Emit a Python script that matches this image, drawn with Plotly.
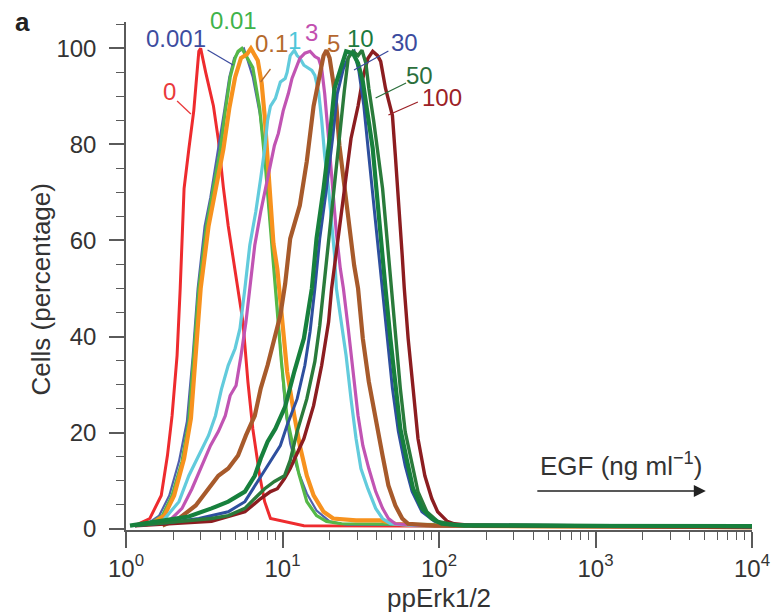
import plotly.graph_objects as go

# ---------------- data ----------------
x_0 = [1.14, 1.42, 1.68, 1.84, 1.97, 2.12, 2.22, 2.35, 2.52, 2.71, 2.92, 3.0, 3.23, 3.62, 3.89, 4.19, 4.50, 4.98, 5.20, 5.59,
       6.01, 6.46, 7.15, 7.69, 8.38, 10.3, 13.7, 10000]
y_0 = [0.6, 2.1, 6.9, 15.2, 23.5, 36, 50, 70.8, 79, 87, 99.4, 100, 95, 88, 81, 71, 63, 53.5, 50, 43,
       30.6, 20.8, 11, 5.6, 2.1, 1.5, 0.6, 0.3]

x_0001 = [1.37, 1.63, 1.89, 2.18, 2.45, 2.67, 2.87, 3.18, 3.46, 3.89, 4.24, 4.57, 4.91, 5.28, 5.67, 6.46, 7.15, 7.80, 8.2, 8.75,
          9.14, 9.69, 10.4, 11.2, 12.4, 14.3, 16.5, 20.0, 25.5, 10000]
y_0001 = [1, 2.7, 6.9, 14, 22.3, 36, 50, 63, 69, 79, 87, 94, 98, 99.4, 100, 94, 86.5, 77, 66.7, 56,
          48, 37.5, 25, 17.7, 12.5, 7.3, 3.75, 1.5, 0.8, 0.3]

x_001 = [1.42, 1.71, 1.97, 2.28, 2.52, 2.71, 2.92, 3.27, 3.52, 4.01, 4.31, 4.63, 4.98, 5.2, 5.5, 6.46, 7.15, 7.80, 8.38, 9.01,
         9.83, 10.7, 11.7, 12.7, 14.3, 16.5, 19.1, 23.8, 10000]
y_001 = [1.0, 2.7, 6.9, 14, 22.3, 36, 50, 63, 69, 79, 87, 94, 98, 99.4, 100, 96, 87.5, 75, 62.5, 50,
         35, 23, 16.7, 11.5, 5.6, 2.7, 1.5, 1.0, 0.3]

x_01 = [1.46, 1.76, 2.03, 2.35, 2.60, 2.79, 3.0, 3.37, 3.73, 4.19, 4.57, 4.98, 5.43, 5.93, 6.28, 6.95, 7.36, 7.69, 8.03, 8.38,
        8.75, 9.27, 9.69, 10.7, 11.9, 12.9, 14.3, 15.8, 18.3, 21.1, 29.5, 42.4, 52.6, 81, 10000]
y_01 = [1, 2.7, 6.9, 14.6, 23, 35.4, 50, 63, 70, 79, 87.5, 94, 98, 98.8, 100, 97.5, 92.7, 86, 77, 67.7,
        59.4, 54, 48, 32.7, 23.5, 17.3, 11, 6.9, 3.5, 2.1, 1.7, 1.7, 1.0, 0.6, 0.3]

x_1 = [1.71, 2.18, 2.52, 2.92, 3.37, 3.73, 4.07, 4.50, 4.98, 5.35, 5.59, 5.75, 6.18, 6.75, 7.26, 7.69, 8.03, 8.38, 9.01, 9.69,
       10.4, 10.7, 11.2, 11.9, 12.4, 12.9, 13.7, 14.7, 15.4, 16.1, 17.0, 17.8, 18.6, 19.7, 20.6, 21.5, 22.1, 23.8, 25.5, 27.4,
       29.5, 31.7, 35.1, 39.4, 43.6, 48.9, 70.3, 10000]
y_1 = [1.5, 5.6, 11, 15.2, 19.4, 23.5, 29, 34, 37.5, 41.7, 46.5, 50, 59, 66, 73, 79, 85, 88, 89.6, 93,
       93.75, 95, 98.5, 99.6, 98.5, 98, 96.5, 95.8, 95.4, 94.4, 91, 85, 77.7, 70.8, 64, 57, 50, 43, 36, 27,
       18.75, 12.5, 8.3, 4.2, 2.1, 1.0, 0.6, 0.3]

x_3 = [1.81, 2.28, 2.64, 3.05, 3.47, 3.89, 4.31, 4.63, 5.05, 5.43, 5.84, 6.18, 6.65, 7.26, 8.03, 8.88, 9.41, 10.1, 10.9, 11.5,
       12.4, 12.9, 13.9, 15.0, 16.1, 17.0, 17.8, 18.6, 19.7, 20.9, 22.1, 23.4, 24.5, 26.3, 28.2, 30.4, 32.6, 35.6, 39.4, 43.6,
       47.5, 52.6, 81, 10000]
y_3 = [1.0, 4.2, 8.3, 13, 17.3, 20.2, 23.5, 27.7, 29.8, 36, 43, 50, 59, 66, 73, 79.8, 82.3, 87, 90.6, 93.75,
       96.5, 97.9, 99, 99.4, 98.3, 97.9, 95.8, 90.6, 81.25, 70.8, 61.5, 54.2, 50, 41.7, 32.7, 23.5, 17.3, 12.5, 7.7, 4.2,
       2.1, 1.0, 0.6, 0.3]

x_5 = [1.71, 2.18, 2.79, 3.37, 3.89, 4.50, 5.20, 5.84, 6.65, 7.26, 8.03, 8.88, 9.69, 10.4, 11.2, 12.9, 14.3, 15.8, 17.0, 18.3,
       19.1, 20.0, 21.1, 22.1, 23.1, 24.5, 25.5, 26.7, 28.7, 30.4, 32.6, 35.6, 39.4, 43.6, 47.5, 52.6, 58.2, 63.5, 93.8, 10000]
y_5 = [0.6, 2.1, 4.8, 8.3, 11, 12.5, 15.2, 19.4, 23.5, 29.2, 34, 39.6, 44.4, 51, 60.4, 67.3, 76.5, 88, 93.75, 98.5,
       99.6, 98, 93, 88, 79.8, 72.9, 67.3, 61.9, 54.8, 50, 39.6, 30.6, 22.3, 15.2, 9.0, 4.8, 2.1, 1.0, 0.6, 0.3]

x_10 = [1.06, 1.63, 2.52, 3.52, 4.50, 5.75, 6.65, 7.26, 8.03, 9.01, 9.69, 10.4, 11.9, 13.7, 15.4, 16.5, 18.3, 20.0, 21.5, 23.8,
        25.5, 28.2, 30.4, 32.6, 35.1, 37.7, 39.4, 41.1, 43.6, 45.5, 48.9, 52.6, 56.6, 62.6, 68.3, 77.8, 89.9, 104, 145, 10000]
y_10 = [0.6, 1.5, 2.5, 4.2, 5.6, 7.7, 11, 14.6, 18.1, 20.8, 22.9, 25.4, 32.7, 39.6, 50, 60.4, 70.8, 81.25, 91.7, 96.5,
        99.4, 99, 96.9, 93.1, 86, 79.2, 72.3, 65.2, 56.9, 50, 39.6, 29.2, 20.8, 14, 8.3, 4.2, 2.1, 1.0, 0.6, 0.5]

x_30 = [1.14, 1.89, 2.92, 4.5, 5.75, 6.95, 8.03, 9.69, 10.7, 12.4, 13.9, 15.0, 16.1, 17.3, 19.1, 20.9, 22.4, 24.5, 26.7, 28.7,
        30.8, 33.1, 35.6, 38.3, 41.1, 43.6, 46.9, 50.4, 55, 60.8, 67.3, 77.8, 93.8, 117, 10000]
y_30 = [0.6, 1.25, 2.1, 3.5, 5.6, 9.8, 13.1, 17.3, 21.5, 27, 34, 41, 50, 60.4, 70.8, 81.25, 90.6, 95.8, 98.5, 99.4,
        95.2, 88, 77.7, 67.3, 56.9, 50, 39.6, 29.2, 20.2, 13.1, 7.7, 3.5, 1.5, 0.8, 0.4]

x_50 = [1.14, 1.89, 2.71, 3.52, 4.50, 5.75, 6.95, 7.69, 8.88, 10.3, 11.2, 12.4, 14.3, 16.1, 17.3, 18.3, 19.7, 21.5, 23.1, 24.8,
        26.3, 28.2, 30.4, 32.2, 34.1, 35.6, 38.3, 41.1, 43.6, 45.5, 47.5, 49.7, 52.6, 56.6, 60.8, 67.3, 73.4, 83.6, 98, 125, 10000]
y_50 = [0.6, 1.25, 1.7, 2.1, 2.7, 4.2, 6.9, 8.3, 9.8, 11, 14.2, 20.2, 27, 34.8, 42.3, 50, 60.4, 70.8, 81.25, 91,
        98, 99.4, 98.5, 99.6, 96.9, 91.7, 84.8, 77.7, 70.8, 64, 56.9, 50, 39.6, 29.2, 20.2, 13.1, 7.7, 3.5, 1.5, 0.8, 0.4]

x_100 = [1.14, 2.03, 3.52, 5.75, 7.26, 8.38, 9.27, 10.3, 11.2, 13.7, 15.8, 17.8, 19.7, 20.6, 22.7, 24.8, 27.4, 30.4, 32.6, 35.1,
         37.7, 40.5, 42.4, 45.5, 47.5, 50.4, 52.6, 55, 58.2, 60, 63.5, 68.3, 73.4, 81.2, 89.9, 98, 113, 125, 167, 10000]
y_100 = [0.6, 1.0, 1.5, 3.5, 6.25, 7.7, 8.3, 10.4, 12.5, 18.75, 25.6, 34, 43, 50, 60.4, 70.8, 81.25, 88, 93.75, 97.9,
         99.4, 98.5, 97.3, 91.7, 89, 86, 77.7, 67.3, 56.9, 50, 39.6, 29.2, 18.75, 11, 6.25, 3.5, 1.5, 1.0, 0.6, 0.3]

labels = ["0", "0.001", "0.01", "0.1", "1", "3", "5", "10", "30", "50", "100"]
x_tick_vals = [1, 10, 100, 1000, 10000]
x_tick_text = ["10<sup>0</sup>", "10<sup>1</sup>", "10<sup>2</sup>", "10<sup>3</sup>", "10<sup>4</sup>"]
y_tick_vals = [0, 20, 40, 60, 80, 100]

# ---------------- style ----------------
FONT = "Liberation Sans, Arial, Helvetica, sans-serif"
AX = "#5a5a5a"
TXT = "#333333"

series = [
    # (x, y, line colour, width, label colour)
    (x_0, y_0, "#ee2b2e", 3.0, "#ea3a3c"),
    (x_0001, y_0001, "#5060ad", 2.2, "#3d4d9f"),
    (x_001, y_001, "#55b847", 3.2, "#3fb34a"),
    (x_01, y_01, "#f7921e", 4.2, "#b56a2c"),
    (x_1, y_1, "#62cbdc", 3.2, "#4fc6d9"),
    (x_3, y_3, "#c154b3", 3.2, "#c24fb0"),
    (x_5, y_5, "#a75a2b", 4.2, "#b5672f"),
    (x_100, y_100, "#8c1d20", 3.4, "#9c2126"),
    (x_30, y_30, "#2e4f9e", 3.0, "#3b4b9e"),
    (x_50, y_50, "#2a7b3b", 3.4, "#2c6f3c"),
    (x_10, y_10, "#17803d", 4.2, "#1d7a3e"),
]
names = ["0", "0.001", "0.01", "0.1", "1", "3", "5", "100", "30", "50", "10"]

fig = go.Figure()
for (xs, ys, col, w, _), nm in zip(series, names):
    fig.add_trace(go.Scatter(x=xs, y=ys, mode="lines", name=nm,
                             line=dict(color=col, width=w), showlegend=False,
                             hoverinfo="skip"))

# geometry in page pixels (page body margin is removed, so figure == window)
W, H = 782, 616
L, R, T, B = 126, 763, 22, 530      # plot area


def px(x):
    return (x - L) / (R - L)


def py(y):
    return (B - y) / (B - T)


label_col = {nm: s[4] for s, nm in zip(series, names)}
label_pos = {"0": (170, 92), "0.001": (177, 38), "0.01": (235, 20), "0.1": (274, 43),
             "1": (297, 40), "3": (315, 33), "5": (337, 43), "10": (365, 38),
             "30": (409, 42), "50": (425, 75), "100": (448, 98)}
leaders = {"0": ((178, 101), (192, 114)), "0.001": ((209, 50), (235, 65)),
           "0.1": ((273, 69), (263, 82)), "30": ((393, 51), (358, 70)),
           "50": ((411, 83), (380, 98)), "100": ((423, 102), (393, 115))}

annotations = []
shapes = []
for lab in labels:
    cx, cy = label_pos[lab]
    annotations.append(dict(text=lab, x=px(cx), y=py(cy), xref="paper", yref="paper",
                            showarrow=False, xanchor="center", yanchor="middle",
                            font=dict(family=FONT, size=24, color=label_col[lab])))
    if lab in leaders:
        (x0, y0), (x1, y1) = leaders[lab]
        shapes.append(dict(type="line", xref="paper", yref="paper",
                           x0=px(x0), y0=py(y0), x1=px(x1), y1=py(y1),
                           line=dict(color=label_col[lab], width=1.3)))

# axis titles, panel letter, EGF arrow
annotations += [
    dict(text="ppErk1/2", x=px(445), y=py(598), xref="paper", yref="paper", showarrow=False,
         xanchor="center", yanchor="middle", font=dict(family=FONT, size=26, color=TXT)),
    dict(text="Cells (percentage)", x=px(40), y=py(289), xref="paper", yref="paper", showarrow=False,
         textangle=-90, xanchor="center", yanchor="middle", font=dict(family=FONT, size=26, color=TXT)),
    dict(text="<b>a</b>", x=px(21), y=py(22), xref="paper", yref="paper", showarrow=False,
         xanchor="center", yanchor="middle", font=dict(family=FONT, size=26, color="#222222")),
    dict(text="EGF (ng ml<sup>\u22121</sup>)", x=px(630), y=py(464), xref="paper", yref="paper",
         showarrow=False, xanchor="center", yanchor="middle", font=dict(family=FONT, size=26, color=TXT)),
    dict(text="", x=px(716), y=py(491), xref="paper", yref="paper", showarrow=True,
         ax=-170, ay=0, arrowhead=2, arrowsize=1.6, arrowwidth=1.5, arrowcolor="#222222", standoff=0,
         startstandoff=0),
]

fig.update_layout(
    width=W, height=H,
    margin=dict(l=L, r=W - R, t=T, b=H - B),
    paper_bgcolor="white", plot_bgcolor="white",
    font=dict(family=FONT, color=TXT),
    xaxis=dict(type="log", range=[0, 4], showgrid=False, zeroline=False,
               showline=True, linecolor=AX, linewidth=1.5,
               ticks="outside", ticklen=16, tickwidth=1.5, tickcolor=AX,
               tickmode="array", tickvals=x_tick_vals, ticktext=x_tick_text,
               tickfont=dict(family=FONT, size=24, color=TXT),
               minor=dict(ticks="outside", ticklen=8, tickwidth=1.3, tickcolor=AX, showgrid=False,
                          tickmode="array",
                          tickvals=[m * d for d in (1, 10, 100, 1000) for m in range(2, 10)])),
    yaxis=dict(range=[-0.3, 105.5], showgrid=False, zeroline=False,
               showline=True, linecolor=AX, linewidth=1.5,
               ticks="outside", ticklen=15, tickwidth=1.5, tickcolor=AX,
               tickmode="array", tickvals=y_tick_vals,
               tickfont=dict(family=FONT, size=24, color=TXT), ticklabelstandoff=8,
               minor=dict(ticks="outside", ticklen=8, tickwidth=1.3, tickcolor=AX, showgrid=False,
                          dtick=5, tick0=0)),
    annotations=annotations,
    shapes=shapes,
)

fig.write_html("out.html", config={"displayModeBar": False},
               post_script="document.body.style.margin='0';document.body.style.overflow='hidden';")
